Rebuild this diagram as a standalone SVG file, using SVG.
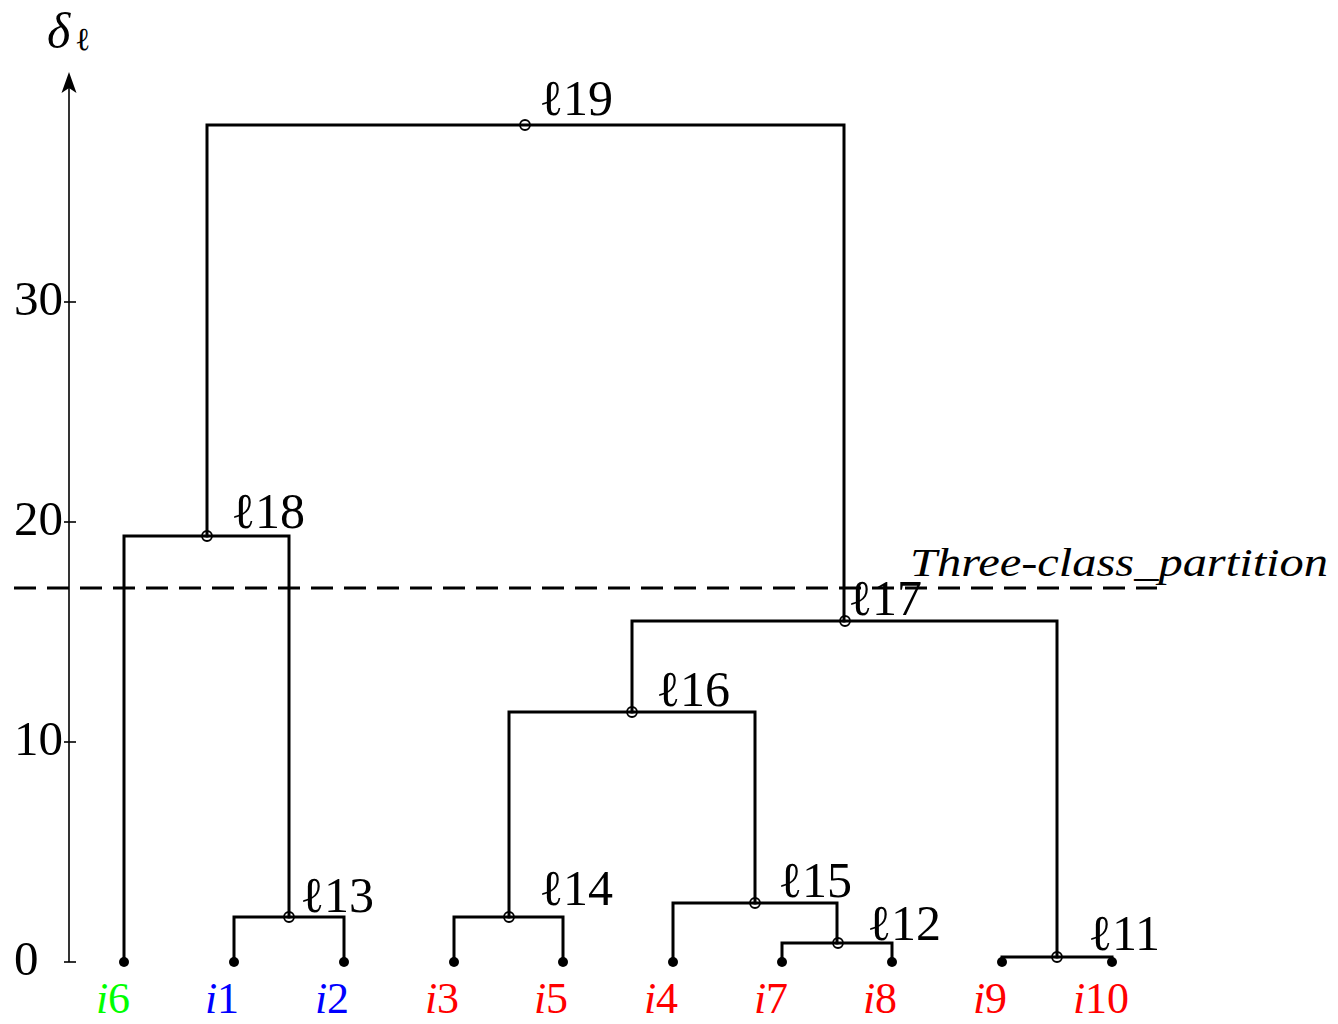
<svg xmlns="http://www.w3.org/2000/svg" width="1338" height="1024" viewBox="0 0 1338 1024">
<style>
.tr{stroke:#000;stroke-width:3;fill:none;stroke-linecap:square}
.ax{stroke:#000;stroke-width:1.6;fill:none}
.num{font-family:"Liberation Serif","Times New Roman",serif;font-size:49px;fill:#000}
.lab{font-family:"Liberation Serif","DejaVu Serif",serif;font-size:50px;fill:#000}
.leaf{font-family:"Liberation Serif","DejaVu Serif",serif;font-size:44px;text-anchor:middle}
.it{font-style:italic}
.dot{fill:#000}
.nd{fill:none;stroke:#000;stroke-width:1.8}
</style>
<rect width="1338" height="1024" fill="#fff"/>
<g id="axis">
<line class="ax" x1="69" y1="962" x2="69" y2="85"/>
<path d="M69 72 L76.5 93 L69 88 L61.5 93 Z" fill="#000"/>
<line class="ax" x1="64" y1="962" x2="76" y2="962"/>
<line class="ax" x1="64" y1="742" x2="76" y2="742"/>
<line class="ax" x1="64" y1="522" x2="76" y2="522"/>
<line class="ax" x1="64" y1="302" x2="76" y2="302"/>
<text class="num" x="14" y="975">0</text>
<text class="num" x="14" y="755">10</text>
<text class="num" x="14" y="535">20</text>
<text class="num" x="14" y="315">30</text>
<text x="47" y="48" font-family="Liberation Serif,DejaVu Serif,serif" font-style="italic" font-size="50">δ</text>
<text x="75" y="50" font-family="Liberation Serif,DejaVu Serif,serif" font-size="32">ℓ</text>
</g>
<g id="partition">
<line x1="14" y1="588" x2="1157" y2="588" stroke="#000" stroke-width="3" stroke-dasharray="22 11"/>
<text x="910" y="576" font-family="Liberation Serif,DejaVu Serif,serif" font-style="italic" font-size="40" textLength="418" lengthAdjust="spacingAndGlyphs">Three-class_partition</text>
</g>
<g id="connectors">
<path class="tr" d="M207 536 V125 H844 V621"/>
<path class="tr" d="M124 962 V536 H289 V917"/>
<path class="tr" d="M234 962 V917 H344 V962"/>
<path class="tr" d="M632 712 V621 H1057 V957"/>
<path class="tr" d="M509 917 V712 H755 V903"/>
<path class="tr" d="M454 962 V917 H563 V962"/>
<path class="tr" d="M673 962 V903 H837 V943"/>
<path class="tr" d="M782 962 V943 H892 V962"/>
<path class="tr" d="M1002 962 V957 H1112 V962"/>
</g>
<g id="leaves">
<g id="i6"><circle class="dot" cx="124" cy="962" r="5"/><text class="leaf" x="113" y="1013" fill="#00ff00"><tspan class="it">i</tspan>6</text></g>
<g id="i1"><circle class="dot" cx="234" cy="962" r="5"/><text class="leaf" x="222" y="1013" fill="#0000ff"><tspan class="it">i</tspan>1</text></g>
<g id="i2"><circle class="dot" cx="344" cy="962" r="5"/><text class="leaf" x="332" y="1013" fill="#0000ff"><tspan class="it">i</tspan>2</text></g>
<g id="i3"><circle class="dot" cx="454" cy="962" r="5"/><text class="leaf" x="442" y="1013" fill="#ff0000"><tspan class="it">i</tspan>3</text></g>
<g id="i5"><circle class="dot" cx="563" cy="962" r="5"/><text class="leaf" x="551" y="1013" fill="#ff0000"><tspan class="it">i</tspan>5</text></g>
<g id="i4"><circle class="dot" cx="673" cy="962" r="5"/><text class="leaf" x="661" y="1013" fill="#ff0000"><tspan class="it">i</tspan>4</text></g>
<g id="i7"><circle class="dot" cx="782" cy="962" r="5"/><text class="leaf" x="771" y="1013" fill="#ff0000"><tspan class="it">i</tspan>7</text></g>
<g id="i8"><circle class="dot" cx="892" cy="962" r="5"/><text class="leaf" x="880" y="1013" fill="#ff0000"><tspan class="it">i</tspan>8</text></g>
<g id="i9"><circle class="dot" cx="1002" cy="962" r="5"/><text class="leaf" x="990" y="1013" fill="#ff0000"><tspan class="it">i</tspan>9</text></g>
<g id="i10"><circle class="dot" cx="1112" cy="962" r="5"/><text class="leaf" x="1101" y="1013" fill="#ff0000"><tspan class="it">i</tspan>10</text></g>
</g>
<g id="nodes">
<g id="l19"><circle class="nd" cx="525" cy="125" r="5"/><text class="lab" x="539" y="115">ℓ19</text></g>
<g id="l18"><circle class="nd" cx="207" cy="536" r="5"/><text class="lab" x="231" y="528">ℓ18</text></g>
<g id="l17"><circle class="nd" cx="845" cy="621" r="5"/><text class="lab" x="848" y="615" fill="#ff0000">ℓ17</text></g>
<g id="l16"><circle class="nd" cx="632" cy="712" r="5"/><text class="lab" x="656" y="706">ℓ16</text></g>
<g id="l15"><circle class="nd" cx="755" cy="903" r="5"/><text class="lab" x="778" y="897">ℓ15</text></g>
<g id="l14"><circle class="nd" cx="509" cy="917" r="5"/><text class="lab" x="539" y="905">ℓ14</text></g>
<g id="l13"><circle class="nd" cx="289" cy="917" r="5"/><text class="lab" x="300" y="912" fill="#0000ff">ℓ13</text></g>
<g id="l12"><circle class="nd" cx="838" cy="943" r="5"/><text class="lab" x="867" y="940">ℓ12</text></g>
<g id="l11"><circle class="nd" cx="1057" cy="957" r="5"/><text class="lab" x="1088" y="950">ℓ11</text></g>
</g>
</svg>
